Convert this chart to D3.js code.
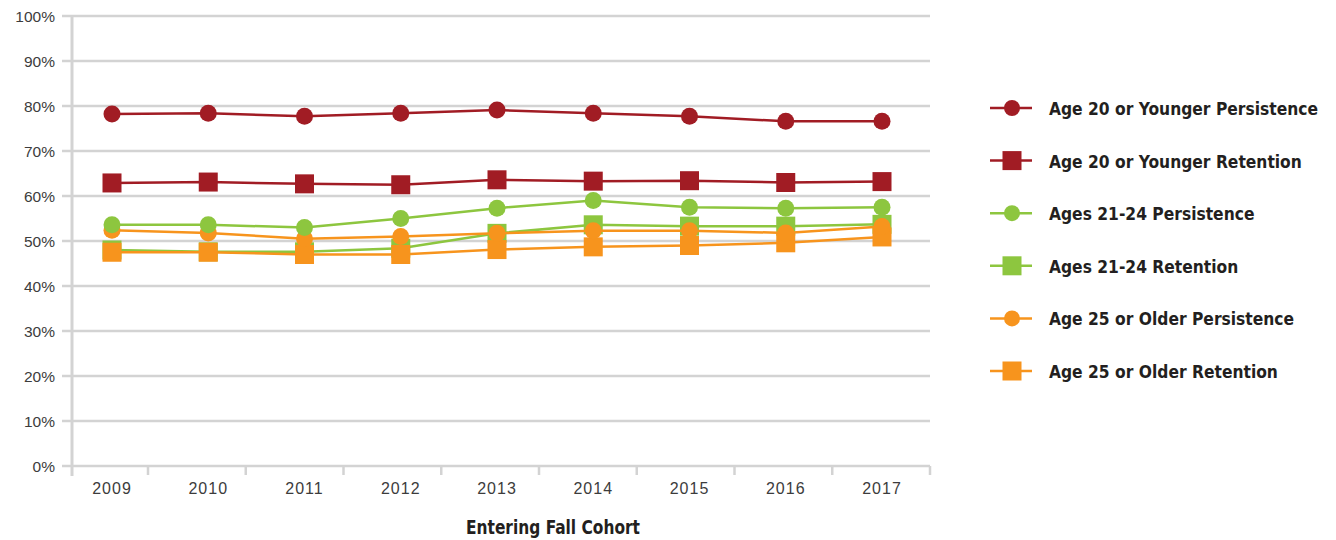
<!DOCTYPE html>
<html>
<head>
<meta charset="utf-8">
<script src="https://cdn.jsdelivr.net/npm/d3@7"></script>
<style>
body { margin: 0; background: #fff; }
.tick-label { font-family: "Liberation Sans", Arial, sans-serif; fill: #3c3c3c; }
.bold { font-family: "Liberation Sans Narrow", "DejaVu Sans Condensed", sans-serif; font-weight: bold; fill: #231f20; }
</style>
</head>
<body>
<div id="chart"></div>
<script>
// data
var years = ["2009", "2010", "2011", "2012", "2013", "2014", "2015", "2016", "2017"];
var yTicks = [0, 10, 20, 30, 40, 50, 60, 70, 80, 90, 100];

var age20Persistence = [78.2, 78.4, 77.7, 78.4, 79.1, 78.4, 77.7, 76.6, 76.6];
var age20Retention   = [62.9, 63.1, 62.7, 62.5, 63.6, 63.3, 63.4, 63.0, 63.2];
var age21Persistence = [53.6, 53.6, 53.0, 55.0, 57.3, 59.0, 57.5, 57.3, 57.5];
var age21Retention   = [48.0, 47.6, 47.6, 48.4, 51.7, 53.6, 53.3, 53.3, 53.7];
var age25Persistence = [52.4, 51.8, 50.5, 51.0, 51.7, 52.3, 52.3, 51.8, 53.2];
var age25Retention   = [47.5, 47.5, 47.0, 47.0, 48.1, 48.7, 49.0, 49.6, 50.9];

var seriesNames = ["Age 20 or Younger Persistence", "Age 20 or Younger Retention",
	"Ages 21-24 Persistence", "Ages 21-24 Retention",
	"Age 25 or Older Persistence", "Age 25 or Older Retention"];

var red = "#a11c24", green = "#8dc63f", orange = "#f7941d";
var series = [
	{ name: seriesNames[0], values: age20Persistence, color: red, shape: "circle" },
	{ name: seriesNames[1], values: age20Retention, color: red, shape: "square" },
	{ name: seriesNames[2], values: age21Persistence, color: green, shape: "circle" },
	{ name: seriesNames[3], values: age21Retention, color: green, shape: "square" },
	{ name: seriesNames[4], values: age25Persistence, color: orange, shape: "circle" },
	{ name: seriesNames[5], values: age25Retention, color: orange, shape: "square" }
];
// order the marks are painted (retention under persistence)
var drawOrder = [1, 3, 5, 0, 4, 2];

var width = 1336, height = 540;
var svg = d3.select("#chart").append("svg")
	.attr("width", width)
	.attr("height", height);

var x = d3.scalePoint().domain(years).range([112, 882]);
var xTick = d3.scalePoint().domain(years).range([148, 930]);
var y = d3.scaleLinear().domain([0, 100]).range([466, 16]);

var grid = "#d3d3d3";

// horizontal grid lines + y ticks
svg.selectAll(".grid")
	.data(yTicks)
	.enter().append("line")
	.attr("x1", 62).attr("x2", 930)
	.attr("y1", function(d) { return y(d); })
	.attr("y2", function(d) { return y(d); })
	.style("stroke", grid)
	.style("stroke-width", 2.5);

svg.selectAll(".ylab")
	.data(yTicks)
	.enter().append("text")
	.attr("class", "tick-label")
	.attr("x", 55)
	.attr("y", function(d) { return y(d) + 5.5; })
	.attr("text-anchor", "end")
	.style("font-size", "15.5px")
	.text(function(d) { return d + "%"; });

// y axis line
svg.append("line")
	.attr("x1", 72).attr("x2", 72)
	.attr("y1", 16).attr("y2", 476)
	.style("stroke", grid)
	.style("stroke-width", 3);

// x ticks
svg.selectAll(".xtick")
	.data(years)
	.enter().append("line")
	.attr("x1", function(d) { return xTick(d); })
	.attr("x2", function(d) { return xTick(d); })
	.attr("y1", 466).attr("y2", 475)
	.style("stroke", grid)
	.style("stroke-width", 2.5);

svg.selectAll(".xlab")
	.data(years)
	.enter().append("text")
	.attr("class", "tick-label")
	.attr("x", function(d) { return x(d); })
	.attr("y", 494)
	.attr("text-anchor", "middle")
	.style("font-size", "16px")
	.style("letter-spacing", "1px")
	.text(function(d) { return d; });

// squeeze a bold label to a given width (the original face is a condensed one)
function fit(sel, w) {
	sel.attr("textLength", w).attr("lengthAdjust", "spacingAndGlyphs");
}

var title = svg.append("text")
	.attr("class", "bold")
	.attr("x", 553)
	.attr("y", 534)
	.attr("text-anchor", "middle")
	.style("font-size", "19px")
	.text("Entering Fall Cohort");
fit(title, 174);

var line = d3.line()
	.x(function(d, i) { return x(years[i]); })
	.y(function(d) { return y(d); });

function drawMarker(g, shape, color, cx, cy, r, side) {
	if (shape == "circle") {
		g.append("circle").attr("cx", cx).attr("cy", cy).attr("r", r).style("fill", color);
	} else {
		g.append("rect").attr("x", cx - side / 2).attr("y", cy - side / 2)
			.attr("width", side).attr("height", side).style("fill", color);
	}
}

drawOrder.forEach(function(k) {
	var s = series[k];
	var g = svg.append("g");
	g.append("path")
		.attr("d", line(s.values))
		.style("fill", "none")
		.style("stroke", s.color)
		.style("stroke-width", 2.5);
	s.values.forEach(function(v, i) {
		drawMarker(g, s.shape, s.color, x(years[i]), y(v), 8.5, 19);
	});
});

// legend
var legendY = d3.scalePoint().domain(seriesNames).range([108, 371]);
var squeeze = null;
series.forEach(function(s) {
	var g = svg.append("g");
	var ly = legendY(s.name);
	g.append("line")
		.attr("x1", 990).attr("x2", 1032)
		.attr("y1", ly).attr("y2", ly)
		.style("stroke", s.color)
		.style("stroke-width", 2.5);
	drawMarker(g, s.shape, s.color, 1012, ly, 8, 19);
	var t = g.append("text")
		.attr("class", "bold")
		.attr("x", 1049)
		.attr("y", ly + 7)
		.style("font-size", "18px")
		.text(s.name);
	var w = t.node().getComputedTextLength();
	if (squeeze === null) squeeze = Math.min(1, 269 / w);
	fit(t, w * squeeze);
});
</script>
</body>
</html>
